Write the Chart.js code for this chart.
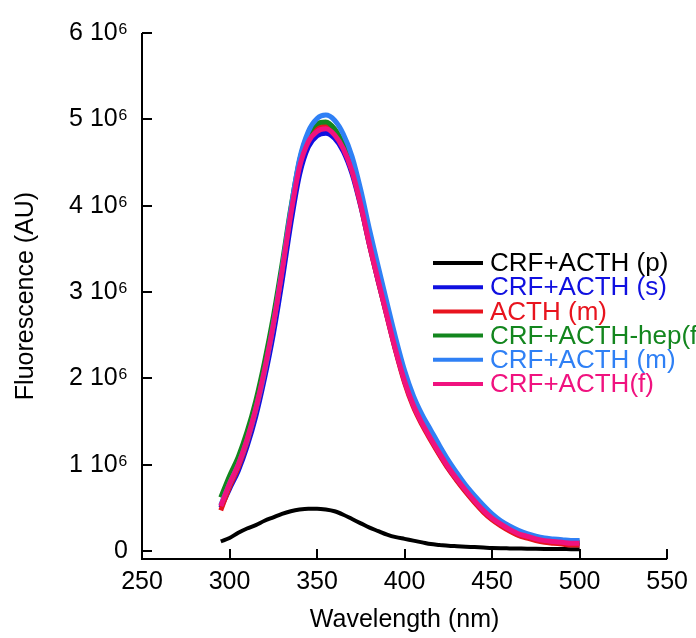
<!DOCTYPE html>
<html>
<head>
<meta charset="utf-8">
<script src="https://cdn.jsdelivr.net/npm/chart.js@4/dist/chart.umd.min.js"></script>
<style>
  html, body { margin: 0; padding: 0; background: #ffffff; }
  #wrap { width: 696px; height: 638px; }
</style>
</head>
<body>
<div id="wrap"><canvas id="c" width="696" height="638"></canvas></div>
<script>
// ---- data (fluorescence in units of 10^6 AU) ----
const wavelengths = [295,300,305,310,315,320,325,330,335,340,345,350,355,360,365,370,375,380,385,390,395,400,405,410,415,420,425,430,435,440,445,450,455,460,465,470,475,480,485,490,495,500];

const seriesNames = ["CRF+ACTH (p)", "CRF+ACTH (s)", "ACTH (m)", "CRF+ACTH-hep(f)", "CRF+ACTH (m)", "CRF+ACTH(f)"];

const crfActhP = [0.11,0.15,0.21,0.26,0.30,0.35,0.39,0.43,0.46,0.48,0.49,0.49,0.48,0.46,0.42,0.37,0.32,0.27,0.23,0.19,0.16,0.14,0.12,0.10,0.08,0.07,0.06,0.055,0.05,0.045,0.04,0.035,0.032,0.03,0.028,0.026,0.025,0.024,0.023,0.022,0.021,0.02];

const crfActhS = [0.50,0.72,0.93,1.21,1.56,2.00,2.51,3.12,3.79,4.36,4.68,4.81,4.84,4.78,4.63,4.37,3.99,3.54,3.12,2.72,2.32,1.97,1.69,1.48,1.30,1.12,0.96,0.82,0.69,0.57,0.46,0.37,0.30,0.24,0.19,0.16,0.13,0.11,0.10,0.09,0.08,0.08];

const acthM = [0.47,0.74,0.97,1.26,1.63,2.08,2.62,3.25,3.92,4.48,4.78,4.90,4.92,4.84,4.67,4.40,4.00,3.54,3.12,2.71,2.31,1.95,1.67,1.46,1.28,1.11,0.95,0.81,0.68,0.56,0.45,0.36,0.29,0.23,0.18,0.15,0.12,0.10,0.09,0.08,0.07,0.07];

const crfActhHepF = [0.62,0.87,1.09,1.38,1.74,2.19,2.71,3.32,3.97,4.52,4.83,4.95,4.97,4.89,4.71,4.44,4.04,3.58,3.15,2.74,2.34,1.99,1.71,1.50,1.32,1.15,0.98,0.84,0.71,0.59,0.48,0.39,0.32,0.26,0.21,0.18,0.15,0.13,0.12,0.11,0.10,0.10];

const crfActhM = [0.53,0.78,1.00,1.28,1.64,2.08,2.62,3.26,3.95,4.54,4.86,5.01,5.05,4.99,4.83,4.57,4.18,3.72,3.29,2.87,2.46,2.09,1.80,1.58,1.40,1.22,1.05,0.90,0.76,0.64,0.53,0.43,0.35,0.29,0.24,0.20,0.17,0.15,0.14,0.13,0.12,0.12];

const crfActhF = [0.52,0.78,1.00,1.29,1.65,2.10,2.62,3.24,3.90,4.45,4.74,4.86,4.89,4.82,4.66,4.40,4.01,3.55,3.13,2.72,2.32,1.97,1.69,1.48,1.30,1.13,0.97,0.83,0.70,0.58,0.47,0.38,0.31,0.25,0.20,0.17,0.14,0.12,0.11,0.10,0.09,0.09];

const xTickValues = [250,300,350,400,450,500,550];
const xTickLabels = ["250","300","350","400","450","500","550"];
const yTickValues = [0,1,2,3,4,5,6];
const yTickLabels = ["0","1 10\u2076","2 10\u2076","3 10\u2076","4 10\u2076","5 10\u2076","6 10\u2076"];

// ---- styles ----
const allSeries = [crfActhP, crfActhS, acthM, crfActhHepF, crfActhM, crfActhF];
const colors = ["#000000", "#1010e0", "#e8141e", "#13861e", "#2f80f5", "#f0127f"];
const widths = [4, 5, 5, 5, 5, 5];
const FONT = "'Liberation Sans', Arial, sans-serif";

const datasets = allSeries.map((arr, i) => ({
  label: seriesNames[i],
  data: wavelengths.map((w, k) => ({ x: w, y: arr[k] })),
  borderColor: colors[i],
  backgroundColor: colors[i],
  borderWidth: widths[i],
  pointRadius: 0,
  cubicInterpolationMode: 'monotone',
  fill: false,
  order: allSeries.length - i
}));

const AX = { left: 142, right: 670, top: 33, bottom: 559 };

const axesPlugin = {
  id: 'axesPlugin',
  afterDraw(chart) {
    const ctx = chart.ctx;
    const xs = chart.scales.x, ys = chart.scales.y;
    const ca = chart.chartArea;
    ctx.save();
    ctx.strokeStyle = '#000';
    ctx.lineWidth = 2;
    ctx.lineCap = 'butt';
    ctx.beginPath();
    ctx.moveTo(ca.left, ca.top);
    ctx.lineTo(ca.left, ca.bottom);
    ctx.lineTo(ca.right, ca.bottom);
    ctx.stroke();
    // inward y ticks
    yTickValues.forEach(v => {
      const y = Math.round(ys.getPixelForValue(v));
      ctx.beginPath();
      ctx.moveTo(ca.left, y);
      ctx.lineTo(ca.left + 10, y);
      ctx.stroke();
    });
    // inward x ticks
    xTickValues.forEach(v => {
      const x = Math.round(xs.getPixelForValue(v));
      ctx.beginPath();
      ctx.moveTo(x, ca.bottom);
      ctx.lineTo(x, ca.bottom - 10);
      ctx.stroke();
    });
    // legend
    const lx0 = 433, lx1 = 483, tx = 490, ly0 = 263, dy = 24.2;
    ctx.font = "26px " + FONT;
    ctx.textBaseline = 'middle';
    ctx.textAlign = 'left';
    chart.data.datasets.forEach((ds, i) => {
      const y = ly0 + i * dy;
      ctx.strokeStyle = ds.borderColor;
      ctx.lineWidth = 4;
      ctx.beginPath();
      ctx.moveTo(lx0, y);
      ctx.lineTo(lx1, y);
      ctx.stroke();
      ctx.fillStyle = ds.borderColor;
      ctx.fillText(ds.label, tx, y + 1);
    });
    ctx.restore();
  }
};

new Chart(document.getElementById('c'), {
  type: 'line',
  data: { datasets },
  options: {
    responsive: false,
    animation: false,
    devicePixelRatio: 1,
    layout: { padding: { top: AX.top, right: 696 - AX.right, bottom: 0, left: 0 } },
    plugins: { legend: { display: false }, tooltip: { enabled: false } },
    scales: {
      x: {
        type: 'linear',
        min: 250,
        max: 550,
        grid: { display: false, drawTicks: false },
        border: { display: false },
        afterBuildTicks: (s) => { s.ticks = xTickValues.map(v => ({ value: v })); },
        afterFit: (s) => { s.height = 638 - AX.bottom; },
        ticks: {
          padding: 8,
          color: '#000',
          font: { family: FONT, size: 25 },
          maxRotation: 0,
          autoSkip: false,
          callback: (v) => { const k = xTickValues.indexOf(v); return k >= 0 ? xTickLabels[k] : ''; }
        },
        title: {
          display: true,
          text: 'Wavelength (nm)',
          color: '#000',
          font: { family: FONT, size: 25 },
          padding: { top: 0, bottom: 3 }
        }
      },
      y: {
        type: 'linear',
        min: -0.093,
        max: 6,
        grid: { display: false, drawTicks: false },
        border: { display: false },
        afterBuildTicks: (s) => { s.ticks = yTickValues.map(v => ({ value: v })); },
        afterFit: (s) => { s.width = AX.left; },
        ticks: {
          padding: 14,
          color: '#000',
          font: { family: FONT, size: 25 },
          autoSkip: false,
          callback: (v) => { const k = yTickValues.indexOf(v); return k >= 0 ? yTickLabels[k] : ''; }
        },
        title: {
          display: true,
          text: 'Fluorescence (AU)',
          color: '#000',
          font: { family: FONT, size: 25 },
          padding: { top: 11, bottom: 0 }
        }
      }
    }
  },
  plugins: [axesPlugin]
});
</script>
</body>
</html>
